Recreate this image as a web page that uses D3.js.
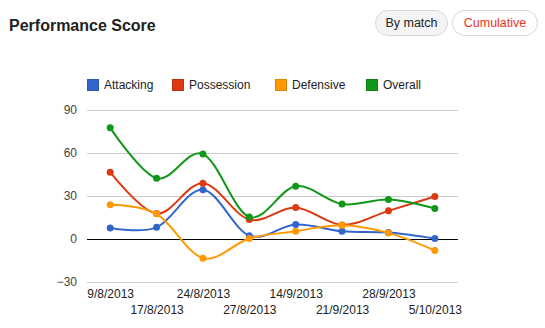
<!DOCTYPE html>
<html>
<head>
<meta charset="utf-8">
<script src="https://cdn.jsdelivr.net/npm/d3@7"></script>
<style>
  html, body { margin: 0; padding: 0; background: #fff; }
  svg { display: block; font-family: Arial, "Liberation Sans", sans-serif; }
</style>
</head>
<body>
<svg id="chart" width="545" height="328"></svg>
<script>
// Match dates (x categories)
const dates = ["9/8/2013", "17/8/2013", "24/8/2013", "27/8/2013", "14/9/2013", "21/9/2013", "28/9/2013", "5/10/2013"];

// Scores per series
const attacking  = [7.4, 7.8, 34, 2, 9.8, 5.1, 4.2, 0];
const possession = [46.3, 17.4, 38.6, 13.2, 21.6, 9.5, 19.3, 29.3];
const defensive  = [23.5, 17.2, -13.7, 0, 5.1, 9.3, 3.9, -8.4];
const overall    = [77.2, 42, 58.9, 15, 36.5, 24, 27.2, 21];

const yTicks = [-30, 0, 30, 60, 90];

const series = [
  { name: "Attacking",  values: attacking,  color: "#3366cc" },
  { name: "Possession", values: possession, color: "#dc3912" },
  { name: "Defensive",  values: defensive,  color: "#ff9900" },
  { name: "Overall",    values: overall,    color: "#109618" }
];

const svg = d3.select("#chart");

// Header: title and toggle buttons
svg.append("text")
  .attr("x", 9).attr("y", 31)
  .attr("font-size", 16).attr("font-weight", "bold").attr("fill", "#222")
  .text("Performance Score");

const buttons = [
  { label: "By match",   x: 375, w: 72, bg: "#f4f4f4", fg: "#222" },
  { label: "Cumulative", x: 452, w: 85, bg: "#ffffff", fg: "#ee3322" }
];
const btn = svg.append("g").selectAll("g").data(buttons).join("g");
btn.append("rect")
  .attr("x", d => d.x + 0.5).attr("y", 10.5)
  .attr("width", d => d.w).attr("height", 25)
  .attr("rx", 12.5).attr("ry", 12.5)
  .attr("fill", d => d.bg).attr("stroke", "#d8d8d8");
btn.append("text")
  .attr("x", d => d.x + 0.5 + d.w / 2).attr("y", 27)
  .attr("text-anchor", "middle").attr("font-size", 12.5)
  .attr("fill", d => d.fg)
  .text(d => d.label);

// Scales
const x = d3.scalePoint().domain(dates).range([87, 458]).padding(0.5);
const y = d3.scaleLinear().domain([-30, 90]).range([281.5, 109.5]);

// Gridlines
svg.append("g").selectAll("line").data(yTicks).join("line")
  .attr("x1", 87).attr("x2", 458)
  .attr("y1", d => Math.round(y(d)) + 0.5).attr("y2", d => Math.round(y(d)) + 0.5)
  .attr("stroke", d => d === 0 ? "#000" : "#cccccc")
  .attr("stroke-width", 1);

// Y axis labels
const yAxis = d3.axisLeft(y).tickValues(yTicks).tickSize(0).tickPadding(0);
svg.append("g")
  .attr("transform", "translate(77,0)")
  .call(yAxis)
  .call(g => g.select(".domain").remove())
  .call(g => g.selectAll("text")
    .attr("font-size", 12).attr("fill", "#444")
    .attr("font-family", "Arial, 'Liberation Sans', sans-serif"));

// X axis labels, alternating across two rows
const xAxis = d3.axisBottom(x).tickSize(0).tickPadding(0);
svg.append("g")
  .attr("transform", "translate(0,0)")
  .call(xAxis)
  .call(g => g.select(".domain").remove())
  .call(g => g.selectAll("text")
    .attr("font-size", 12).attr("fill", "#222")
    .attr("font-family", "Arial, 'Liberation Sans', sans-serif")
    .attr("dy", null)
    .attr("y", (d, i) => i % 2 === 0 ? 298 : 314));

// Lines
const line = d3.line()
  .x((d, i) => x(dates[i]))
  .y(d => y(d))
  .curve(d3.curveCardinal.tension(0));

const plot = svg.append("g");
series.forEach(s => {
  plot.append("path")
    .datum(s.values)
    .attr("d", line)
    .attr("fill", "none")
    .attr("stroke", s.color)
    .attr("stroke-width", 2);
  plot.append("g").selectAll("circle").data(s.values).join("circle")
    .attr("cx", (d, i) => x(dates[i]))
    .attr("cy", d => y(d))
    .attr("r", 3.5)
    .attr("fill", s.color);
});

// Legend
const legendX = [87, 172, 275, 366];
const leg = svg.append("g").selectAll("g").data(series).join("g")
  .attr("transform", (d, i) => `translate(${legendX[i]},79)`);
leg.append("rect")
  .attr("x", 0.5).attr("y", 0.5)
  .attr("width", 11).attr("height", 11)
  .attr("fill", d => d.color)
  .attr("stroke", d => d3.color(d.color).darker(0.4));
leg.append("text")
  .attr("x", 17).attr("y", 10)
  .attr("font-size", 12).attr("fill", "#222")
  .text(d => d.name);
</script>
</body>
</html>
